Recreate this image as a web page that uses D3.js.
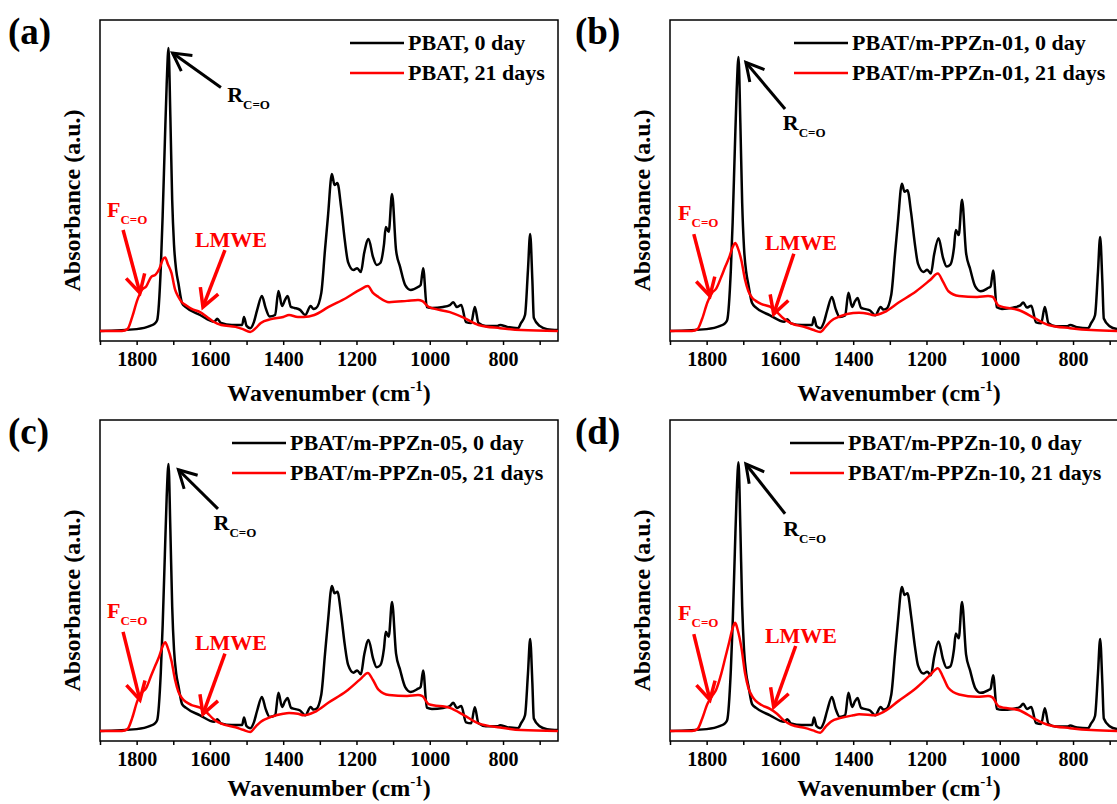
<!DOCTYPE html>
<html>
<head>
<meta charset="utf-8">
<script src="https://d3js.org/d3.v7.min.js"></script>
<style>
  body { margin: 0; background: #fff; }
  svg text { font-family: "Liberation Serif", "Times New Roman", serif; font-weight: bold; }
</style>
</head>
<body>
<svg id="chart" width="1117" height="804"></svg>
<script>
// wavenumbers (cm-1)
const wnBlack = [1900,1800,1763,1750,1744,1734,1729,1723,1718,1713,1708,1703,1698,1692,1686,1676,1666,1627,1588,1580,
  1570,1540,1512,1507,1500,1490,1480,1471,1458,1448,1437,1422,1413,1403,1395,1388,1379,1369,1354,1340,
  1325,1318,1310,1296,1286,1278,1267,1260,1252,1242,1232,1223,1208,1198,1188,1179,1167,1155,1145,1135,
  1125,1120,1112,1103,1092,1081,1067,1052,1032,1025,1018,1008,994,964,945,936,926,914,901,887,
  877,867,847,815,808,789,759,751,740,732,726,720,716,700,680,650];
const wnRed = [1900,1840,1825,1812,1798,1785,1774,1760,1749,1738,1728,1722,1715,1705,1695,1686,1676,1666,1650,1627,
  1608,1590,1569,1530,1510,1490,1475,1461,1433,1400,1384,1360,1344,1315,1276,1228,1190,1169,1155,1140,
  1111,1062,1032,1020,1003,945,906,867,808,750,650];

// absorbance, 0 day (black)
const day0A = [0.031,0.037,0.047,0.055,0.065,0.23,0.39,0.62,0.80,0.913,0.70,0.44,0.30,0.22,0.18,0.118,0.106,0.081,0.06,0.069,
  0.056,0.05,0.05,0.075,0.047,0.04,0.059,0.097,0.14,0.103,0.076,0.081,0.156,0.109,0.128,0.14,0.106,0.103,0.097,0.081,
  0.109,0.10,0.103,0.15,0.283,0.386,0.52,0.486,0.492,0.417,0.315,0.246,0.221,0.227,0.215,0.274,0.318,0.262,0.237,0.243,
  0.30,0.355,0.34,0.458,0.283,0.231,0.174,0.159,0.168,0.174,0.227,0.106,0.103,0.106,0.112,0.121,0.106,0.112,0.059,0.056,
  0.106,0.056,0.047,0.047,0.05,0.044,0.04,0.056,0.081,0.221,0.333,0.19,0.072,0.047,0.037,0.034];
const day0B = [0.031,0.037,0.047,0.055,0.065,0.22,0.37,0.60,0.78,0.885,0.68,0.43,0.29,0.215,0.175,0.118,0.105,0.08,0.06,0.068,
  0.055,0.05,0.05,0.074,0.046,0.04,0.058,0.095,0.137,0.1,0.075,0.08,0.15,0.106,0.124,0.134,0.104,0.1,0.095,0.08,
  0.106,0.098,0.1,0.145,0.27,0.37,0.49,0.465,0.47,0.4,0.305,0.24,0.215,0.222,0.21,0.27,0.32,0.26,0.232,0.238,
  0.29,0.346,0.33,0.44,0.275,0.225,0.17,0.155,0.165,0.17,0.22,0.105,0.1,0.104,0.11,0.12,0.104,0.11,0.058,0.055,
  0.106,0.055,0.046,0.046,0.05,0.043,0.04,0.055,0.08,0.215,0.324,0.185,0.07,0.046,0.037,0.034];
const day0C = [0.031,0.037,0.047,0.055,0.065,0.215,0.36,0.58,0.76,0.863,0.66,0.42,0.285,0.21,0.172,0.115,0.104,0.08,0.06,0.068,
  0.055,0.05,0.05,0.073,0.046,0.04,0.058,0.095,0.137,0.1,0.075,0.08,0.15,0.106,0.124,0.134,0.104,0.1,0.095,0.08,
  0.106,0.098,0.1,0.145,0.27,0.37,0.483,0.46,0.465,0.395,0.3,0.238,0.213,0.22,0.208,0.268,0.315,0.258,0.23,0.236,
  0.288,0.34,0.325,0.433,0.272,0.222,0.168,0.153,0.163,0.168,0.22,0.104,0.1,0.103,0.109,0.119,0.103,0.109,0.058,0.055,
  0.105,0.055,0.046,0.046,0.049,0.043,0.04,0.055,0.08,0.21,0.318,0.182,0.07,0.046,0.037,0.034];
const day0D = [0.031,0.037,0.047,0.055,0.065,0.22,0.365,0.59,0.77,0.868,0.665,0.42,0.285,0.21,0.172,0.115,0.104,0.08,0.06,0.068,
  0.055,0.05,0.05,0.073,0.046,0.04,0.058,0.095,0.137,0.1,0.075,0.08,0.15,0.106,0.124,0.134,0.104,0.1,0.095,0.08,
  0.106,0.098,0.1,0.145,0.27,0.37,0.48,0.455,0.46,0.39,0.298,0.235,0.21,0.216,0.205,0.262,0.31,0.255,0.228,0.232,
  0.285,0.335,0.32,0.433,0.27,0.22,0.165,0.15,0.158,0.163,0.205,0.1,0.097,0.1,0.106,0.116,0.1,0.106,0.056,0.053,
  0.102,0.053,0.045,0.045,0.048,0.042,0.04,0.054,0.078,0.21,0.318,0.18,0.07,0.046,0.037,0.034];

// absorbance, 21 days (red)
const day21A = [0.031,0.031,0.037,0.075,0.128,0.16,0.17,0.2,0.206,0.225,0.255,0.26,0.24,0.212,0.16,0.137,0.12,0.112,0.1,0.09,
  0.075,0.06,0.05,0.044,0.037,0.028,0.04,0.056,0.068,0.075,0.081,0.075,0.075,0.081,0.106,0.134,0.16,0.171,0.15,0.137,
  0.121,0.125,0.128,0.124,0.106,0.09,0.072,0.05,0.04,0.034,0.031];
const day21B = [0.031,0.031,0.037,0.07,0.12,0.15,0.163,0.2,0.232,0.262,0.295,0.305,0.29,0.25,0.19,0.155,0.135,0.125,0.115,0.107,
  0.09,0.07,0.055,0.043,0.035,0.028,0.045,0.062,0.078,0.087,0.088,0.085,0.08,0.09,0.12,0.155,0.19,0.21,0.185,0.155,
  0.14,0.137,0.14,0.138,0.11,0.095,0.072,0.05,0.04,0.034,0.031];
const day21C = [0.031,0.031,0.037,0.072,0.125,0.152,0.165,0.205,0.235,0.265,0.298,0.308,0.29,0.25,0.19,0.153,0.133,0.122,0.112,0.104,
  0.088,0.068,0.054,0.043,0.035,0.028,0.045,0.06,0.075,0.085,0.087,0.085,0.08,0.09,0.12,0.155,0.192,0.212,0.19,0.16,
  0.143,0.14,0.143,0.14,0.115,0.103,0.08,0.055,0.042,0.034,0.031];
const day21D = [0.031,0.031,0.037,0.07,0.115,0.14,0.16,0.21,0.26,0.31,0.355,0.368,0.345,0.29,0.21,0.165,0.14,0.125,0.112,0.1,
  0.085,0.065,0.05,0.04,0.033,0.026,0.045,0.06,0.072,0.08,0.083,0.082,0.08,0.092,0.125,0.165,0.205,0.227,0.2,0.165,
  0.145,0.138,0.14,0.136,0.108,0.095,0.07,0.05,0.04,0.034,0.031];

const panelLabels = ['(a)', '(b)', '(c)', '(d)'];
const sampleNames = ['PBAT', 'PBAT/m-PPZn-01', 'PBAT/m-PPZn-05', 'PBAT/m-PPZn-10'];
const seriesSuffix = [', 0 day', ', 21 days'];
const seriesColors = ['#000000', '#ff0000'];
const xTicks = [1900,1800,1700,1600,1500,1400,1300,1200,1100,1000,900,800,700];

// annotation anchors in data units: [wavenumber, absorbance]
const rTip   = [[1702,0.897],[1693,0.868],[1686,0.845],[1693,0.863]];
const rTail  = [[1570,0.79],[1586,0.723],[1578,0.723],[1586,0.708]];
const rText  = [[1553,0.745],[1592,0.657],[1590,0.657],[1591,0.64]];
const fTip   = [[1791,0.15],[1791,0.14],[1791,0.128],[1791,0.128]];
const fTail  = [[1837,0.346],[1835,0.333],[1837,0.34],[1835,0.333]];
const fText  = [[1881,0.386],[1878,0.378],[1881,0.383],[1878,0.378]];
const lTip   = [[1619,0.106],[1617,0.084],[1619,0.084],[1617,0.106]];
const lTail  = [[1559,0.283],[1562,0.272],[1559,0.272],[1557,0.296]];
const lText  = [[1641,0.293],[1641,0.283],[1641,0.283],[1641,0.305]];

const black = [day0A, day0B, day0C, day0D];
const red = [day21A, day21B, day21C, day21D];

// layout of the four frames
const panels = [
  {left: 100, top: 20, legendX: 250, titleY: 60},
  {left: 670, top: 20, legendX: 124, titleY: 60},
  {left: 100, top: 420, legendX: 132, titleY: 55},
  {left: 670, top: 420, legendX: 120, titleY: 55}
];
const width = 458, height = 321;

const svg = d3.select('#chart');

panels.forEach((p, i) => {
  const g = svg.append('g').attr('transform', `translate(${p.left},${p.top})`);

  // Build X scales and axis:
  var x = d3.scaleLinear().domain([1900, 650]).range([0, width]);
  var y = d3.scaleLinear().domain([0, 1]).range([height, 0]);

  const xAxis = g.append('g')
    .attr('transform', `translate(0,${height})`)
    .call(d3.axisBottom(x)
      .tickValues(xTicks)
      .tickSize(4)
      .tickPadding(7)
      .tickFormat(d => d % 200 === 0 ? d : ''));
  xAxis.select('.domain').remove();
  xAxis.selectAll('line').attr('stroke', '#000').attr('stroke-width', 1.5);
  xAxis.selectAll('text').attr('font-size', 20).attr('fill', '#000')
    .style('font-family', '"Liberation Serif", serif').style('font-weight', 'bold');

  // frame
  g.append('rect')
    .attr('width', width).attr('height', height)
    .attr('fill', 'none').attr('stroke', '#000').attr('stroke-width', 1.5);

  // spectra
  const clipId = 'clip' + i;
  g.append('clipPath').attr('id', clipId).append('rect').attr('width', width).attr('height', height);

  const line = d3.line()
    .x(d => x(d[0]))
    .y(d => y(d[1]))
    .curve(d3.curveMonotoneX);

  g.append('path')
    .datum(wnBlack.map((w, k) => [w, black[i][k]]))
    .attr('clip-path', `url(#${clipId})`)
    .attr('fill', 'none').attr('stroke', seriesColors[0]).attr('stroke-width', 2.5)
    .attr('stroke-linejoin', 'round')
    .attr('d', line);

  g.append('path')
    .datum(wnRed.map((w, k) => [w, red[i][k]]))
    .attr('clip-path', `url(#${clipId})`)
    .attr('fill', 'none').attr('stroke', seriesColors[1]).attr('stroke-width', 2.5)
    .attr('stroke-linejoin', 'round')
    .attr('d', line);

  // legend
  seriesSuffix.forEach((s, k) => {
    const ly = 23 + k * 30;
    g.append('line')
      .attr('x1', p.legendX).attr('x2', p.legendX + 54)
      .attr('y1', ly).attr('y2', ly)
      .attr('stroke', seriesColors[k]).attr('stroke-width', 2.5);
    g.append('text')
      .attr('x', p.legendX + 58).attr('y', ly + 7)
      .attr('font-size', 22)
      .text(sampleNames[i] + s);
  });

  // arrows
  const arrow = (tail, tip, color, w) => {
    const x1 = x(tail[0]), y1 = y(tail[1]), x2 = x(tip[0]), y2 = y(tip[1]);
    const ang = Math.atan2(y1 - y2, x1 - x2);
    const len = 20, spread = 0.5;
    g.append('line')
      .attr('x1', x1).attr('y1', y1).attr('x2', x2).attr('y2', y2)
      .attr('stroke', color).attr('stroke-width', w);
    g.append('path')
      .attr('d', `M${x2 + len * Math.cos(ang - spread)},${y2 + len * Math.sin(ang - spread)}L${x2},${y2}L${x2 + len * Math.cos(ang + spread)},${y2 + len * Math.sin(ang + spread)}`)
      .attr('fill', 'none').attr('stroke', color).attr('stroke-width', w)
      .attr('stroke-linejoin', 'miter');
  };
  arrow(rTail[i], rTip[i], '#000', 3);
  arrow(fTail[i], fTip[i], '#ff0000', 3.5);
  arrow(lTail[i], lTip[i], '#ff0000', 3.5);

  const rLabel = g.append('text')
    .attr('x', x(rText[i][0])).attr('y', y(rText[i][1]))
    .attr('font-size', 22).attr('fill', '#000');
  rLabel.append('tspan').text('R');
  rLabel.append('tspan').attr('font-size', 13).attr('dy', 7).text('C=O');

  const fLabel = g.append('text')
    .attr('x', x(fText[i][0])).attr('y', y(fText[i][1]))
    .attr('font-size', 22).attr('fill', '#ff0000');
  fLabel.append('tspan').text('F');
  fLabel.append('tspan').attr('font-size', 13).attr('dy', 7).text('C=O');

  g.append('text')
    .attr('x', x(lText[i][0])).attr('y', y(lText[i][1]))
    .attr('font-size', 22).attr('fill', '#ff0000')
    .text('LMWE');

  // axis titles
  const xt = g.append('text')
    .attr('x', width / 2).attr('y', height + p.titleY)
    .attr('text-anchor', 'middle').attr('font-size', 24);
  xt.append('tspan').text('Wavenumber (cm');
  xt.append('tspan').attr('font-size', 15).attr('dy', -10).text('-1');
  xt.append('tspan').attr('dy', 10).text(')');

  g.append('text')
    .attr('transform', `translate(-20,${height / 2 + 20}) rotate(-90)`)
    .attr('text-anchor', 'middle').attr('font-size', 24)
    .text('Absorbance (a.u.)');

  // panel label
  g.append('text')
    .attr('x', p.left === 100 ? -92 : -95).attr('y', 24)
    .attr('font-size', 37)
    .text(panelLabels[i]);
});
</script>
</body>
</html>
